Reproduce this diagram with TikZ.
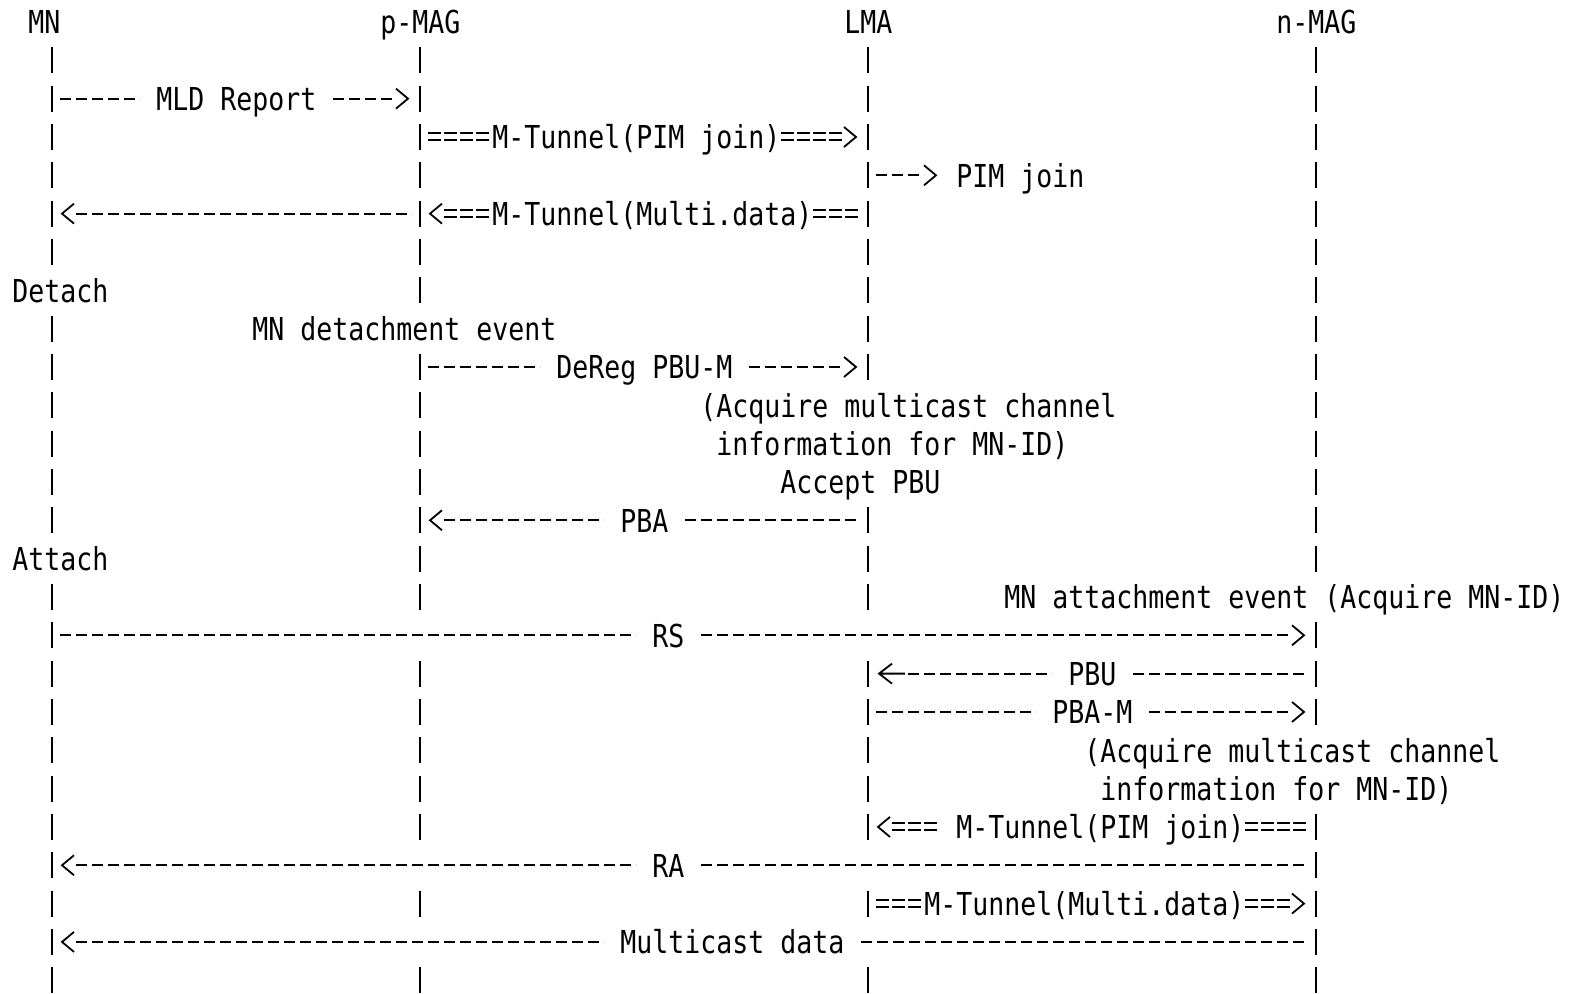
\documentclass[tikz,border=0pt]{standalone}
\usepackage{fontspec}
\newfontfamily\asciifont[FakeStretch=0.841]{DejaVu Sans Mono}

\begin{document}
\begin{tikzpicture}[
    % Environment Config
    x=0.5pt, y=-0.5pt,
    font=\asciifont\fontsize{15.8pt}{19pt}\selectfont,
    declare function={cx(\c)=12+16*\c; ry(\r)=22+38.33*\r;},
    Life/.style={% Style for the lifeline bars
      line width=1.2pt
    },
    Msg/.style={% Style for the dashed messages
      line width=1pt,
      dash pattern=on 5.5pt off 2.5pt
    },
    Tunnel/.style={% Style for the tunnel messages
      line width=1pt,
      double distance=2.5pt,
      dash pattern=on 6.5pt off 1.5pt
    },
    Tip/.style={% Style for the arrow heads
      line width=0.9pt,
      line join=miter
    },
    Lbl/.style={% Style for the texts
      inner sep=0pt,
      text height=14pt,
      text depth=2pt,
      anchor=west
    }
  ]

  \def\TipR(#1){% Head pointing right
    \draw[Tip] (#1) ++(-12,-10) -- (#1) -- ++(-12,10);
  }
  \def\TipL(#1){% Head pointing left
    \draw[Tip] (#1) ++(12,-10) -- (#1) -- ++(12,10);
  }
  \def\TipBig(#1){% Wide left arrow
    \draw[Tip] (#1) ++(13,-10) -- (#1) -- ++(13,10)
      (#1) -- ++(26,0);
  }

  \useasboundingbox (0,0) rectangle (1569,994);

  % Lifeline heads
  \node[Lbl] (MN) at ({cx(1)},{ry(0)}) {MN};
  \node[Lbl] (pMAG) at ({cx(23)},{ry(0)}) {p-MAG};
  \node[Lbl] (LMA) at ({cx(52)},{ry(0)}) {LMA};
  \node[Lbl] (nMAG) at ({cx(79)},{ry(0)}) {n-MAG};

  % Row points on the lifelines
  \foreach \r in {0,...,25}{
    \coordinate (MN-\r) at (52,{ry(\r)});
    \coordinate (pMAG-\r) at (420,{ry(\r)});
    \coordinate (LMA-\r) at (868,{ry(\r)});
    \coordinate (nMAG-\r) at (1316,{ry(\r)});
  }

  % Lifelines, broken where a text or a message crosses them
  \foreach \L/\Rows in {
      MN/{1,2,3,4,5,6,8,9,10,11,12,13,15,16,17,18,19,20,21,22,23,24,25},
      pMAG/{1,2,3,4,5,6,7,9,10,11,12,13,14,15,17,18,19,20,21,23,25},
      LMA/{1,2,3,4,5,6,7,8,9,13,14,15,17,18,19,20,21,23,25},
      nMAG/{1,2,3,4,5,6,7,8,9,10,11,12,13,14,16,17,18,21,22,23,24,25}}{
    \foreach \r in \Rows
      \draw[Life] ([yshift=6.5pt]\L-\r) -- ([yshift=-6.5pt]\L-\r);
  }

  %===MLD Report===
  \node[Lbl] (mld) at ({cx(9)},{ry(2)}) {MLD Report};
  \draw[Msg] ([xshift=4pt]MN-2) -- ([xshift=-8pt]mld.west);
  \draw[Msg] ([xshift=8pt]mld.east) -- ([xshift=-12pt]pMAG-2);
  \TipR([xshift=-6pt]pMAG-2)

  %===M-Tunnel(PIM join)===
  \node[Lbl] (tunA) at ({cx(30)},{ry(3)}) {M-Tunnel(PIM join)};
  \draw[Tunnel] ([xshift=4pt]pMAG-3) -- (tunA.west);
  \draw[Tunnel] (tunA.east) -- ([xshift=-12pt]LMA-3);
  \TipR([xshift=-6pt]LMA-3)

  %===PIM join===
  \node[Lbl] (pim) at ({cx(59)},{ry(4)}) {PIM join};
  \draw[Msg] ([xshift=4pt]LMA-4) -- ([xshift=-16pt]pim.west);
  \TipR([xshift=-10pt]pim.west)

  %===Data to MN===
  \draw[Msg] ([xshift=12pt]MN-5) -- ([xshift=-4pt]pMAG-5);
  \TipL([xshift=5pt]MN-5)

  %===M-Tunnel(Multi.data)===
  \node[Lbl] (tunB) at ({cx(30)},{ry(5)}) {M-Tunnel(Multi.data)};
  \draw[Tunnel] ([xshift=12pt]pMAG-5) -- (tunB.west);
  \draw[Tunnel] (tunB.east) -- ([xshift=-4pt]LMA-5);
  \TipL([xshift=5pt]pMAG-5)

  %===Detachment===
  \node[Lbl] (detach) at ({cx(0)},{ry(7)}) {Detach};
  \node[Lbl] (detev) at ({cx(15)},{ry(8)}) {MN detachment event};

  %===DeReg PBU-M===
  \node[Lbl] (dereg) at ({cx(34)},{ry(9)}) {DeReg PBU-M};
  \draw[Msg] ([xshift=4pt]pMAG-9) -- ([xshift=-8pt]dereg.west);
  \draw[Msg] ([xshift=8pt]dereg.east) -- ([xshift=-12pt]LMA-9);
  \TipR([xshift=-6pt]LMA-9)

  % LMA notes
  \node[Lbl] (acqA) at ({cx(43)},{ry(10)}) {(Acquire multicast channel};
  \node[Lbl] (infA) at ({cx(44)},{ry(11)}) {information for MN-ID)};
  \node[Lbl] (accept) at ({cx(48)},{ry(12)}) {Accept PBU};

  %===PBA===
  \node[Lbl] (pba) at ({cx(38)},{ry(13)}) {PBA};
  \draw[Msg] ([xshift=12pt]pMAG-13) -- ([xshift=-8pt]pba.west);
  \draw[Msg] ([xshift=8pt]pba.east) -- ([xshift=-4pt]LMA-13);
  \TipL([xshift=5pt]pMAG-13)

  %===Attachment===
  \node[Lbl] (attach) at ({cx(0)},{ry(14)}) {Attach};
  \node[Lbl] (attev) at ({cx(62)},{ry(15)}) {MN attachment event (Acquire MN-ID)};

  %===RS===
  \node[Lbl] (rs) at ({cx(40)},{ry(16)}) {RS};
  \draw[Msg] ([xshift=4pt]MN-16) -- ([xshift=-8pt]rs.west);
  \draw[Msg] ([xshift=8pt]rs.east) -- ([xshift=-12pt]nMAG-16);
  \TipR([xshift=-6pt]nMAG-16)

  %===PBU===
  \node[Lbl] (pbu) at ({cx(66)},{ry(17)}) {PBU};
  \draw[Msg] ([xshift=20pt]LMA-17) -- ([xshift=-8pt]pbu.west);
  \draw[Msg] ([xshift=8pt]pbu.east) -- ([xshift=-4pt]nMAG-17);
  \TipBig([xshift=5.5pt]LMA-17)

  %===PBA-M===
  \node[Lbl] (pbam) at ({cx(65)},{ry(18)}) {PBA-M};
  \draw[Msg] ([xshift=4pt]LMA-18) -- ([xshift=-8pt]pbam.west);
  \draw[Msg] ([xshift=8pt]pbam.east) -- ([xshift=-12pt]nMAG-18);
  \TipR([xshift=-6pt]nMAG-18)

  % n-MAG notes
  \node[Lbl] (acqB) at ({cx(67)},{ry(19)}) {(Acquire multicast channel};
  \node[Lbl] (infB) at ({cx(68)},{ry(20)}) {information for MN-ID)};

  %===M-Tunnel(PIM join) back===
  \node[Lbl] (tunC) at ({cx(59)},{ry(21)}) {M-Tunnel(PIM join)};
  \draw[Tunnel] ([xshift=12pt]LMA-21) -- ([xshift=-8pt]tunC.west);
  \draw[Tunnel] (tunC.east) -- ([xshift=-4pt]nMAG-21);
  \TipL([xshift=5pt]LMA-21)

  %===RA===
  \node[Lbl] (ra) at ({cx(40)},{ry(22)}) {RA};
  \draw[Msg] ([xshift=12pt]MN-22) -- ([xshift=-8pt]ra.west);
  \draw[Msg] ([xshift=8pt]ra.east) -- ([xshift=-4pt]nMAG-22);
  \TipL([xshift=5pt]MN-22)

  %===M-Tunnel(Multi.data) to n-MAG===
  \node[Lbl] (tunD) at ({cx(57)},{ry(23)}) {M-Tunnel(Multi.data)};
  \draw[Tunnel] ([xshift=4pt]LMA-23) -- (tunD.west);
  \draw[Tunnel] (tunD.east) -- ([xshift=-12pt]nMAG-23);
  \TipR([xshift=-6pt]nMAG-23)

  %===Multicast data===
  \node[Lbl] (mcast) at ({cx(38)},{ry(24)}) {Multicast data};
  \draw[Msg] ([xshift=12pt]MN-24) -- ([xshift=-8pt]mcast.west);
  \draw[Msg] ([xshift=8pt]mcast.east) -- ([xshift=-4pt]nMAG-24);
  \TipL([xshift=5pt]MN-24)

\end{tikzpicture}
\end{document}
